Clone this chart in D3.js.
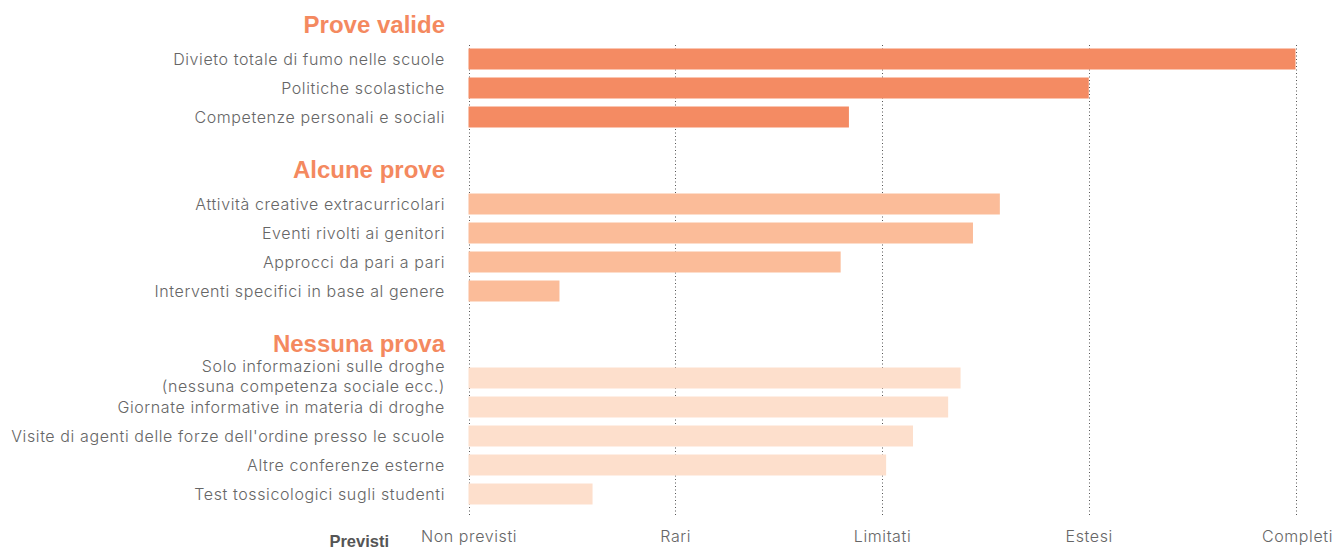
<!DOCTYPE html>
<html>
<head>
<meta charset="utf-8">
<script src="https://cdn.jsdelivr.net/npm/d3@7"></script>
<style>
  html, body { margin: 0; padding: 0; background: #fff; }
  svg { display: block; }
  text { font-family: "Inter", "Open Sans", "Liberation Sans", Arial, sans-serif; }
</style>
</head>
<body>
<svg id="chart" width="1334" height="550"></svg>
<script>
// ---- data ----
const groups = ["Prove valide", "Alcune prove", "Nessuna prova"];
const groupColors = ["#F48B63", "#FBBC99", "#FDDFCC"];
const categories = [
  "Divieto totale di fumo nelle scuole",
  "Politiche scolastiche",
  "Competenze personali e sociali",
  "Attività creative extracurricolari",
  "Eventi rivolti ai genitori",
  "Approcci da pari a pari",
  "Interventi specifici in base al genere",
  "Solo informazioni sulle droghe\n(nessuna competenza sociale ecc.)",
  "Giornate informative in materia di droghe",
  "Visite di agenti delle forze dell'ordine presso le scuole",
  "Altre conferenze esterne",
  "Test tossicologici sugli studenti"
];
const categoryGroup = [0, 0, 0, 1, 1, 1, 1, 2, 2, 2, 2, 2];
const values = [4.0, 3.0, 1.84, 2.57, 2.44, 1.80, 0.44, 2.38, 2.32, 2.15, 2.02, 0.60];
const tickLabels = ["Non previsti", "Rari", "Limitati", "Estesi", "Completi"];
const axisTitle = "Previsti";

// ---- layout rows: header slot per group, blank slot between groups ----
const rows = [];
groups.forEach((g, gi) => {
  if (gi > 0) rows.push({ type: "blank" });
  rows.push({ type: "header", label: g, group: gi });
  categories.forEach((c, i) => {
    if (categoryGroup[i] === gi) rows.push({ type: "bar", label: c, value: values[i], group: gi });
  });
});

const svg = d3.select("#chart");
const x = d3.scaleLinear().domain([0, 4]).range([468.5, 1295.5]);
const y = d3.scaleBand()
  .domain(d3.range(rows.length))
  .range([15.5, 15.5 + 29 * rows.length])
  .paddingInner(0.276)
  .paddingOuter(0.138);

const textColor = "#666666";
const headerColor = "#F4895F";
const labelSize = 16;
const labelSpacing = 0.6;

// gridlines
svg.append("g").selectAll("line")
  .data(d3.range(0, 5))
  .join("line")
  .attr("x1", d => Math.round(x(d)) + 0.5)
  .attr("x2", d => Math.round(x(d)) + 0.5)
  .attr("y1", 45)
  .attr("y2", 517)
  .attr("stroke", "#555")
  .attr("stroke-width", 1)
  .attr("stroke-dasharray", "1,2.5");

// bars
const barRows = rows.map((r, i) => ({ ...r, i })).filter(r => r.type === "bar");
svg.append("g").selectAll("rect")
  .data(barRows)
  .join("rect")
  .attr("x", x(0))
  .attr("y", d => y(d.i))
  .attr("width", d => x(d.value) - x(0))
  .attr("height", y.bandwidth())
  .attr("fill", d => groupColors[d.group]);

// category labels
const lab = svg.append("g").selectAll("text")
  .data(barRows)
  .join("text")
  .attr("x", 445)
  .attr("y", d => y(d.i) + y.bandwidth() / 2)
  .attr("text-anchor", "end")
  .attr("fill", textColor)
  .attr("font-size", labelSize)
  .attr("font-weight", 300)
  .attr("letter-spacing", labelSpacing);
lab.each(function (d) {
  const lines = d.label.split("\n");
  const t = d3.select(this);
  const lh = 20;
  const off = -(lines.length - 1) * lh / 2 - (lines.length - 1) * 2;
  lines.forEach((ln, k) => {
    t.append("tspan")
      .attr("x", 445)
      .attr("y", y(d.i) + y.bandwidth() / 2 + off + k * lh)
      .attr("dy", "0.35em")
      .text(ln);
  });
});

// group headers
const headRows = rows.map((r, i) => ({ ...r, i })).filter(r => r.type === "header");
svg.append("g").selectAll("text")
  .data(headRows)
  .join("text")
  .attr("x", 445)
  .attr("y", d => y(d.i) + y.bandwidth() / 2 - 5)
  .attr("dy", "0.35em")
  .attr("text-anchor", "end")
  .attr("fill", headerColor)
  .attr("font-size", 24)
  .attr("font-weight", "bold")
  .style("font-family", "'Liberation Sans', Arial, sans-serif")
  .text(d => d.label);

// x axis labels
const axis = d3.axisBottom(x).tickValues(d3.range(0, 5)).tickFormat(d => tickLabels[d]).tickSize(0).tickPadding(0);
const ax = svg.append("g").attr("transform", "translate(0,531)").call(axis);
ax.select(".domain").remove();
ax.selectAll("text")
  .attr("font-size", labelSize)
  .attr("font-weight", 300)
  .attr("letter-spacing", labelSpacing)
  .attr("fill", textColor)
  .attr("font-family", "Inter, 'Open Sans', 'Liberation Sans', Arial, sans-serif");
ax.selectAll(".tick text").attr("text-anchor", (d) => d === 4 ? "end" : "middle")
  .attr("dx", d => d === 4 ? "37" : "0");

svg.append("text")
  .attr("x", 389)
  .attr("y", 547)
  .attr("text-anchor", "end")
  .attr("fill", "#555")
  .attr("font-size", 16.5)
  .attr("font-weight", "bold")
  .style("font-family", "'Liberation Sans', Arial, sans-serif")
  .text(axisTitle);
</script>
</body>
</html>
